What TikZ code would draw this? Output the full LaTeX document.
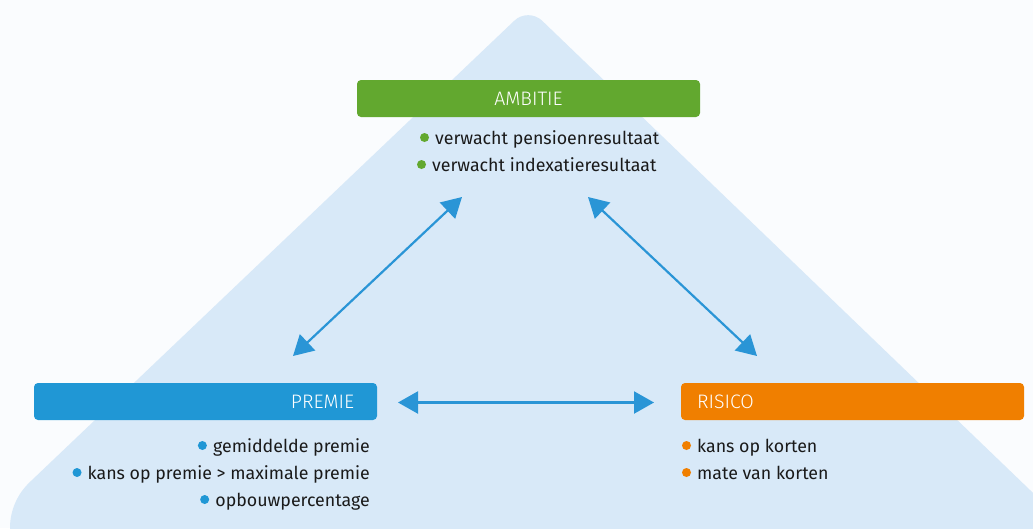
\documentclass[tikz,border=0pt]{standalone}
\usepackage{fontspec}
\setmainfont{Fira Sans}
\newfontfamily\lightfont{Fira Sans Light}
\usetikzlibrary{arrows.meta}
\definecolor{bg}{HTML}{FAFCFE}
\definecolor{tri}{HTML}{D8E9F8}
\definecolor{grn}{HTML}{62A82F}
\definecolor{blu}{HTML}{2097D5}
\definecolor{org}{HTML}{F07F00}
\definecolor{arr}{HTML}{2A95D6}
\definecolor{txt}{HTML}{1A1A1A}
\begin{document}
\begin{tikzpicture}[x=1pt,y=-1pt,
  box/.style={rounded corners=4pt, minimum width=343pt, minimum height=37pt, inner ysep=0pt,
    text=white, font=\lightfont\fontsize{19.5}{21}\selectfont},
  item/.style={inner sep=0pt, text=txt, font=\fontsize{17.8}{20}\selectfont},
  link/.style={draw=arr, line width=2.2pt, {Triangle[length=20pt,width=22pt]}-{Triangle[length=20pt,width=22pt]}}]
\useasboundingbox (0,0) rectangle (1033,528);
\fill[bg] (0,0) rectangle (1033,528);
\begin{scope}
\clip (0,0) rectangle (1033,528);
\fill[tri] (29.5,482.4) -- (514.4,20.6) .. controls (522.1,13.3) and (534.5,13.4) .. (542.1,20.7)
  -- (1135,591) -- (73,591) arc[start angle=90, end angle=226.4, radius=63] -- cycle;
\end{scope}
% boxes
\node[box, fill=grn] (amb) at (528.5,98.5) {AMBITIE};
\node[box, fill=blu, inner xsep=23pt, text width=297pt, align=right] (pre) at (205.5,401.5) {PREMIE};
\node[box, fill=org, inner xsep=16pt, text width=311pt, align=left] (ris) at (852.5,401.5) {RISICO};
% items
\node[item, anchor=base west] (a1) at (435,144) {verwacht pensioenresultaat};
\node[item, anchor=base west] (a2) at (432,171) {verwacht indexatieresultaat};
\node[item, anchor=base east] (p1) at (370,452) {gemiddelde premie};
\node[item, anchor=base east] (p2) at (370,479) {kans op premie > maximale premie};
\node[item, anchor=base east] (p3) at (370,506) {opbouwpercentage};
\node[item, anchor=base west] (r1) at (697,452) {kans op korten};
\node[item, anchor=base west] (r2) at (697,479) {mate van korten};
% bullets
\foreach \n/\c in {a1/grn,a2/grn,p1/blu,p2/blu,p3/blu,r1/org,r2/org}
  \fill[\c] ([xshift=-10.5pt,yshift=6.5pt]\n.base west) circle (4.5pt);
% arrows
\coordinate (l1) at (462,197); \coordinate (l2) at (293,356);
\coordinate (m1) at (588,197); \coordinate (m2) at (757,356);
\coordinate (h1) at (398,402.5); \coordinate (h2) at (654,402.5);
\draw[link] (l1) -- (l2);
\draw[link] (m1) -- (m2);
\draw[link] (h1) -- (h2);
\end{tikzpicture}
\end{document}
